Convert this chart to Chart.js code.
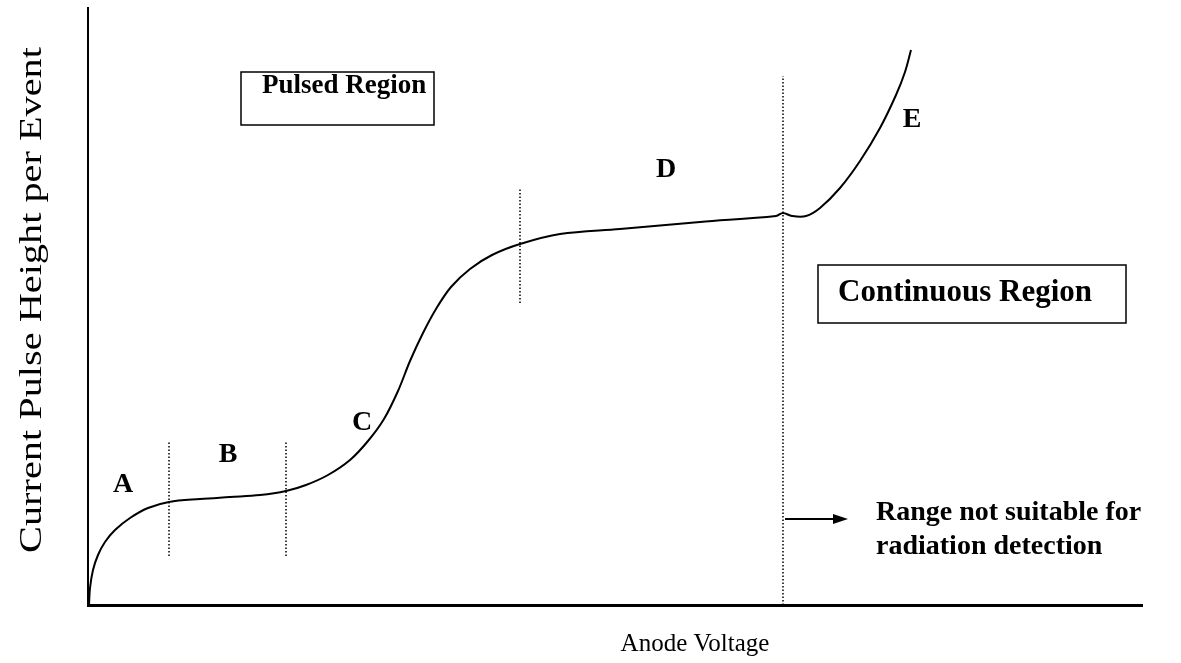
<!DOCTYPE html>
<html lang="en">
<head>
  <meta charset="UTF-8" />
  <title>Pulse Height vs Anode Voltage</title>
  <script src="https://cdn.jsdelivr.net/npm/chart.js"></script>
  <style>
    body {
      margin: 0;
      background: #fff;
    }
  </style>
</head>
<body>

<canvas id="gasChart" width="1181" height="663"></canvas>

<script>
  // curve (arbitrary units)
  const voltage = [1, 2, 5, 10, 17, 27, 42, 60, 81, 112, 142, 172, 198, 218, 240, 262, 280, 296, 310, 322, 335, 348, 363, 382, 404, 432, 472, 532, 612, 688, 695, 704, 718, 732, 752, 772, 792, 808, 817, 823];
  const pulseHeight = [0, 17, 35, 50, 63, 75, 87, 97, 103, 106, 108, 110, 114, 120, 130, 145, 164, 186, 214, 244, 272, 296, 318, 336, 350, 361, 371, 376, 383, 389, 392, 389, 389, 397, 417, 444, 477, 510, 533, 555];

  // dotted region boundaries
  const boundaryX = [81, 198, 432, 695];
  const boundaryLow = [49, 49, 302, 0];
  const boundaryHigh = [163, 163, 416, 529];

  // region letters
  const regionLabels = ['A', 'B', 'C', 'D', 'E'];
  const labelX = [35, 140, 274, 578, 824];
  const labelY = [120, 150, 182, 435, 485];

  const font = '"Liberation Serif", "Times New Roman", serif';

  const datasets = [{
    data: voltage.map((v, i) => ({ x: v, y: pulseHeight[i] })),
    borderColor: '#000',
    borderWidth: 2,
    showLine: true,
    pointRadius: 0,
    tension: 0.35
  }];
  boundaryX.forEach((bx, i) => {
    datasets.push({
      data: [{ x: bx, y: boundaryLow[i] }, { x: bx, y: boundaryHigh[i] }],
      borderColor: '#000',
      borderWidth: 1.5,
      borderDash: [1.5, 2],
      showLine: true,
      pointRadius: 0
    });
  });

  const notes = {
    id: 'notes',
    afterDatasetsDraw(chart) {
      const { ctx, scales: { x, y } } = chart;
      const px = v => x.getPixelForValue(v);
      const py = v => y.getPixelForValue(v);
      ctx.save();
      ctx.fillStyle = '#000';
      ctx.strokeStyle = '#000';
      ctx.textBaseline = 'middle';

      ctx.font = 'bold 28px ' + font;
      ctx.textAlign = 'center';
      regionLabels.forEach((t, i) => ctx.fillText(t, px(labelX[i]), py(labelY[i])));

      // boxes
      ctx.lineWidth = 1.5;
      ctx.strokeRect(px(153), py(533), px(346) - px(153), py(480) - py(533));
      ctx.strokeRect(px(730), py(340), px(1038) - px(730), py(282) - py(340));
      ctx.textAlign = 'left';
      ctx.font = 'bold 27px ' + font;
      ctx.fillText('Pulsed Region', px(174), py(519));
      ctx.font = 'bold 31px ' + font;
      ctx.fillText('Continuous Region', px(750), py(312));

      // arrow
      ctx.lineWidth = 2;
      ctx.beginPath();
      ctx.moveTo(px(697), py(86));
      ctx.lineTo(px(746), py(86));
      ctx.stroke();
      ctx.beginPath();
      ctx.moveTo(px(760), py(86));
      ctx.lineTo(px(745), py(86) - 5);
      ctx.lineTo(px(745), py(86) + 5);
      ctx.closePath();
      ctx.fill();
      ctx.font = 'bold 28px ' + font;
      ctx.fillText('Range not suitable for', px(788), py(92));
      ctx.fillText('radiation detection', px(788), py(58));

      // axis titles
      ctx.font = '25px ' + font;
      ctx.textAlign = 'center';
      ctx.fillText('Anode Voltage', px(607), 644);
      ctx.translate(33, 300);
      ctx.rotate(-Math.PI / 2);
      ctx.scale(1.3, 1);
      ctx.font = '31px ' + font;
      ctx.fillText('Current Pulse Height per Event', 0, 0);
      ctx.restore();
    }
  };

  new Chart(document.getElementById('gasChart'), {
    type: 'scatter',
    data: { datasets },
    options: {
      responsive: false,
      animation: false,
      layout: { padding: { left: 88, right: 39, top: 8, bottom: 58 } },
      plugins: { legend: { display: false }, tooltip: { enabled: false } },
      scales: {
        x: {
          type: 'linear', min: 0, max: 1054,
          ticks: { display: false },
          grid: { display: false, drawTicks: false, tickLength: 0 },
          border: { display: true, color: '#000', width: 3 }
        },
        y: {
          type: 'linear', min: 0, max: 597,
          ticks: { display: false },
          grid: { display: false, drawTicks: false, tickLength: 0 },
          border: { display: true, color: '#000', width: 2 }
        }
      }
    },
    plugins: [notes]
  });
</script>

</body>
</html>
